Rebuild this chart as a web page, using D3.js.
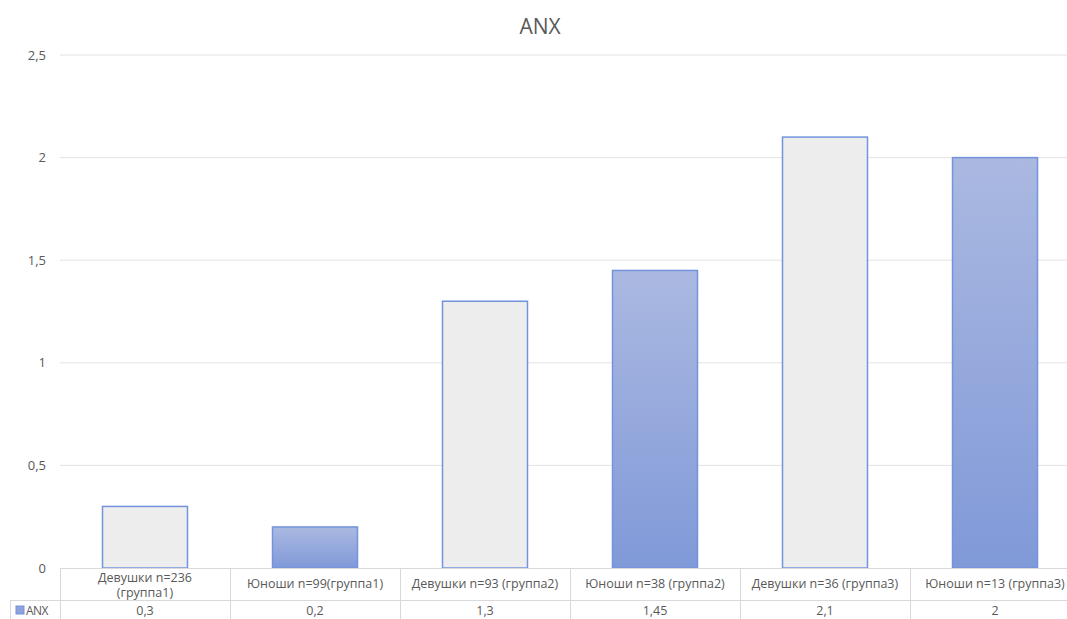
<!DOCTYPE html>
<html><head><meta charset="utf-8">
<script src="https://cdn.jsdelivr.net/npm/d3@7"></script>
<style>body{margin:0;background:#fff;}svg{display:block;font-family:"Open Sans","Noto Sans",sans-serif;}</style>
</head><body>
<svg id="c" width="1067" height="619"></svg>
<script>
const categories = [
  ["Девушки n=236", "(группа1)"],
  ["Юноши n=99(группа1)"],
  ["Девушки n=93 (группа2)"],
  ["Юноши n=38 (группа2)"],
  ["Девушки  n=36 (группа3)"],
  ["Юноши n=13 (группа3)"]
];
const values = [0.3, 0.2, 1.3, 1.45, 2.1, 2];
const valueLabels = ["0,3", "0,2", "1,3", "1,45", "2,1", "2"];
const yTicks = [0, 0.5, 1, 1.5, 2, 2.5];
const seriesName = "ANX";
const title = "ANX";

const svg = d3.select("#c");
const defs = svg.append("defs");
const g = defs.append("linearGradient").attr("id","gb").attr("x1",0).attr("y1",0).attr("x2",0).attr("y2",1);
g.append("stop").attr("offset","0%").attr("stop-color","#abb9e1");
g.append("stop").attr("offset","100%").attr("stop-color","#8099d8");

const ids = categories.map((c,i)=>"c"+i);
const x = d3.scaleBand().domain(ids).range([60,1080]).paddingInner(0.5).paddingOuter(0.25);
const y = d3.scaleLinear().domain([0,2.5]).range([568,55]);

// gridlines
svg.append("g").selectAll("line").data(yTicks.filter(t=>t>0)).join("line")
  .attr("x1",60).attr("x2",1067).attr("y1",d=>y(d)).attr("y2",d=>y(d))
  .attr("stroke","#e3e3e3").attr("stroke-width",1);

// y axis labels
const yAxis = d3.axisLeft(y).tickValues(yTicks).tickSize(0).tickPadding(0)
  .tickFormat(d=>String(d).replace(".",","));
const ya = svg.append("g").attr("transform","translate(46,0)").call(yAxis);
ya.select(".domain").remove();
ya.selectAll("text").attr("fill","#595959").style("font-size","13px").style("font-family","'Open Sans',sans-serif");

// bars
svg.append("g").selectAll("rect").data(values).join("rect")
  .attr("x",(d,i)=>x(ids[i])).attr("width",x.bandwidth())
  .attr("y",d=>y(d)).attr("height",d=>y(0)-y(d))
  .attr("fill",(d,i)=> i%2===0 ? "#ededed" : "url(#gb)")
  .attr("stroke","#7393dc").attr("stroke-width",1.5);

// title
svg.append("text").attr("x",540).attr("y",34).attr("text-anchor","middle")
  .attr("fill","#595959").style("font-size","21px").text(title);

// data table
const tg = svg.append("g");
const step = x.step();
const left = 60, right = 1080;
const lineC = "#d9d9d9";
tg.append("line").attr("x1",left).attr("x2",right).attr("y1",568.5).attr("y2",568.5).attr("stroke",lineC);
tg.append("line").attr("x1",10).attr("x2",right).attr("y1",600.5).attr("y2",600.5).attr("stroke",lineC);
tg.append("line").attr("x1",10.5).attr("x2",10.5).attr("y1",600).attr("y2",619).attr("stroke",lineC);
const bounds = d3.range(7).map(i=>left + i*step);
tg.selectAll("line.v").data(bounds).join("line").attr("class","v")
  .attr("x1",d=>d+0.5).attr("x2",d=>d+0.5).attr("y1",568).attr("y2",619).attr("stroke",lineC);

// category labels
tg.selectAll("text.cat").data(categories).join("text").attr("class","cat")
  .attr("x",(d,i)=>x(ids[i])+x.bandwidth()/2)
  .attr("y",(d)=> d.length>1 ? 582 : 588)
  .attr("text-anchor","middle").attr("fill","#595959").style("font-size","12.5px")
  .each(function(d){
    const t = d3.select(this);
    d.forEach((line,k)=>{
      t.append("tspan").attr("x",t.attr("x")).attr("dy",k===0?0:15).text(line);
    });
  });

// value labels
tg.selectAll("text.val").data(valueLabels).join("text").attr("class","val")
  .attr("x",(d,i)=>x(ids[i])+x.bandwidth()/2).attr("y",615)
  .attr("text-anchor","middle").attr("fill","#595959").style("font-size","12.5px").text(d=>d);

// legend key
tg.append("rect").attr("x",16).attr("y",606).attr("width",8).attr("height",8)
  .attr("fill","#8ea3dc").attr("stroke","#7393dc");
tg.append("text").attr("x",26).attr("y",615).attr("fill","#595959")
  .style("font-size","12px").style("letter-spacing","-0.6px").text(seriesName);
</script>
</body></html>
